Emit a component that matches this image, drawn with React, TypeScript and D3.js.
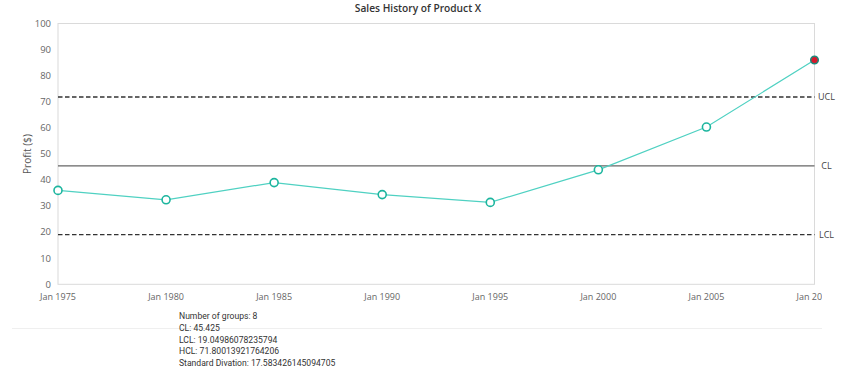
import React from "react";
import * as d3 from "d3";

const categories = ["Jan 1975", "Jan 1980", "Jan 1985", "Jan 1990", "Jan 1995", "Jan 2000", "Jan 2005", "Jan 2010"];
const profits = [36, 32.4, 39, 34.4, 31.4, 43.9, 60.3, 86];
const yTicks = [0, 10, 20, 30, 40, 50, 60, 70, 80, 90, 100];
const controlLines = [
  { name: "UCL", value: 71.80013921764206, dashed: true },
  { name: "CL", value: 45.425, dashed: false },
  { name: "LCL", value: 19.04986078235794, dashed: true },
];
const statLines = [
  "Number of groups: 8",
  "CL: 45.425",
  "LCL: 19.04986078235794",
  "HCL: 71.80013921764206",
  "Standard Divation: 17.583426145094705",
];
const outOfControl = [false, false, false, false, false, false, false, true];

const W = 846;
const H = 371;
const left = 58;
const right = 814.5;
const top = 23.5;
const bottom = 284.3;
const font = "'Open Sans', 'Noto Sans', sans-serif";

export default function App() {
  const x = d3.scalePoint<string>().domain(categories).range([left, right]);
  const y = d3.scaleLinear().domain([0, 100]).range([bottom, top]);
  const line = d3
    .line<number>()
    .x((_, i) => x(categories[i]) as number)
    .y((d) => y(d));

  return (
    <svg
      width={W}
      height={H}
      style={{ position: "absolute", left: 0, top: 0, background: "#fff" }}
    >
      <defs>
        <clipPath id="clipx">
          <rect x={0} y={0} width={822} height={H} />
        </clipPath>
      </defs>
      <text
        x={418}
        y={11.5}
        textAnchor="middle"
        fontFamily={font}
        fontWeight={600}
        fontSize={10.2}
        fill="#333"
      >
        Sales History of Product X
      </text>

      {/* plot frame */}
      <rect
        x={left}
        y={y(100)}
        width={right - left}
        height={y(0) - y(100)}
        fill="none"
        stroke="#dadada"
        strokeWidth={1}
      />

      {/* y ticks */}
      {yTicks.map((t) => (
        <text
          key={t}
          x={51}
          y={y(t)}
          dy="0.35em"
          textAnchor="end"
          fontFamily={font}
          fontSize={9.5}
          fill="#666"
        >
          {t}
        </text>
      ))}
      <text
        transform={`translate(31,${154}) rotate(-90)`}
        textAnchor="middle"
        fontFamily={font}
        fontSize={10}
        fill="#555"
      >
        Profit ($)
      </text>

      {/* x ticks */}
      <g clipPath="url(#clipx)">
        {categories.map((c) => (
          <text
            key={c}
            x={x(c) as number}
            y={300}
            textAnchor="middle"
            fontFamily={font}
            fontSize={9}
            fill="#666"
          >
            {c}
          </text>
        ))}
      </g>

      {/* control lines */}
      {controlLines.map((cl) => (
        <g key={cl.name}>
          <line
            x1={left}
            x2={right}
            y1={y(cl.value)}
            y2={y(cl.value)}
            stroke={cl.dashed ? "#333" : "#666"}
            strokeWidth={cl.dashed ? 1.4 : 1.3}
            strokeDasharray={cl.dashed ? "4.5,2.5" : undefined}
          />
          <text
            x={right + 12}
            y={y(cl.value)}
            dy="0.35em"
            textAnchor="middle"
            fontFamily={font}
            fontSize={9}
            fill="#444"
          >
            {cl.name}
          </text>
        </g>
      ))}

      {/* series */}
      <path d={line(profits) || ""} fill="none" stroke="#4fd1c2" strokeWidth={1.2} />
      {profits.map((v, i) => (
        <circle
          key={i}
          cx={x(categories[i]) as number}
          cy={y(v)}
          r={outOfControl[i] ? 3.8 : 4}
          fill={outOfControl[i] ? "#d6192c" : "#fff"}
          stroke={outOfControl[i] ? "#1d8a7c" : "#1cb59e"}
          strokeWidth={outOfControl[i] ? 1.5 : 1.6}
        />
      ))}

      {/* divider */}
      <line x1={12} x2={822} y1={328.5} y2={328.5} stroke="#efefef" strokeWidth={1} />

      {/* stats */}
      {statLines.map((s, i) => (
        <text
          key={i}
          x={179}
          y={319 + i * 11.8}
          fontFamily="Roboto, sans-serif"
          fontSize={8.6}
          fill="#333"
        >
          {s}
        </text>
      ))}
    </svg>
  );
}
